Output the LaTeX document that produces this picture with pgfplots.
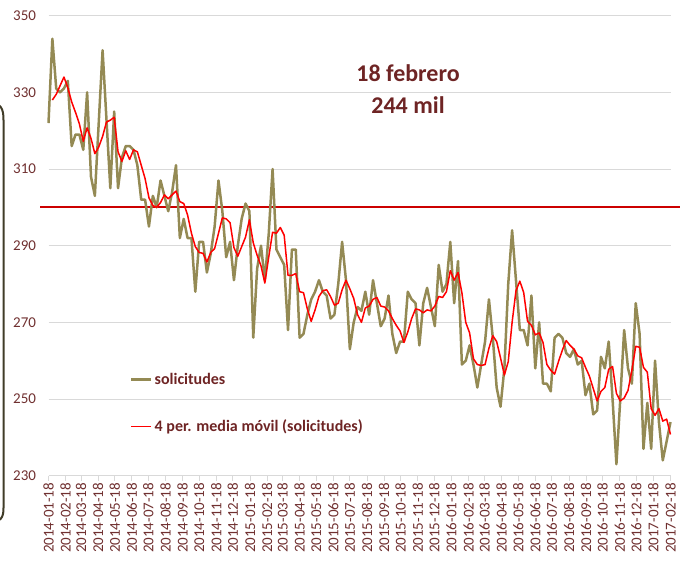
\documentclass[border=0pt]{standalone}
\usepackage{fontspec}
\setmainfont{Carlito}
\usepackage{pgfplots}
\usepackage{pgfplotstable}
\pgfplotsset{compat=1.18}
\definecolor{gold}{RGB}{148,138,84}
\definecolor{txt}{RGB}{112,48,48}
\definecolor{ttl}{RGB}{110,36,36}
\definecolor{grd}{RGB}{217,217,217}
\definecolor{refred}{RGB}{204,0,0}
\definecolor{frame}{RGB}{64,60,40}
\pgfplotstableread{
w g m
0 322 nan
1 344 328
2 331 329.5
3 330 331.75
4 331 334
5 333 331.25
6 316 327.5
7 319 324.75
8 319 321.75
9 315 317.25
10 330 320.75
11 308 318
12 303 314
13 322 315.75
14 341 318.5
15 323 322.25
16 305 322.75
17 325 323.5
18 305 314.5
19 313 312
20 316 314.75
21 316 312.5
22 315 315
23 311 314.5
24 302 311
25 302 307.5
26 295 302.5
27 303 300.5
28 300 300
29 307 301.25
30 303 303.25
31 299 302.25
32 304 303.25
33 311 304.25
34 292 301.5
35 297 301
36 292 298
37 292 293.25
38 278 289.75
39 291 288.25
40 291 288
41 283 285.75
42 288 288.25
43 295 289.25
44 307 293.25
45 299 297.25
46 287 297
47 291 296
48 281 289.5
49 290 287.25
50 297 289.75
51 301 292.25
52 299 296.75
53 266 290.75
54 284 287.5
55 290 284.75
56 281 280.25
57 293 287
58 310 293.5
59 289 293.25
60 287 294.75
61 285 292.75
62 268 282.25
63 289 282.25
64 289 282.75
65 266 278
66 267 277.75
67 272 273.5
68 276 270.25
69 278 273.25
70 281 276.75
71 278 278.25
72 277 278.5
73 271 276.75
74 272 274.5
75 280 275
76 291 278.5
77 281 281
78 263 278.75
79 270 276.25
80 274 272
81 273 270
82 278 273.75
83 272 274.25
84 281 276
85 275 276.5
86 269 274.25
87 271 274
88 277 273
89 267 271
90 262 269.25
91 265 267.75
92 265 264.75
93 278 267.5
94 276 271
95 275 273.5
96 264 273.25
97 275 272.5
98 279 273.25
99 274 273
100 269 274.25
101 285 276.75
102 278 276.5
103 280 278
104 291 283.5
105 275 281
106 286 283
107 259 277.75
108 260 270
109 264 267.25
110 259 260.5
111 253 259
112 259 258.75
113 265 259
114 276 263.25
115 266 266.5
116 253 265
117 248 260.75
118 258 256.25
119 280 259.75
120 294 270
121 281 278.25
122 268 280.75
123 268 277.75
124 264 270.25
125 277 269.25
126 258 266.75
127 270 267.25
128 254 264.75
129 254 259
130 252 257.5
131 266 256.5
132 267 259.75
133 266 262.75
134 262 265.25
135 261 264
136 263 263
137 259 261.25
138 260 260.75
139 251 258.25
140 254 256
141 246 252.75
142 247 249.5
143 261 252
144 258 253
145 265 257.75
146 250 258.5
147 233 251.5
148 250 249.5
149 268 250.25
150 258 252.25
151 254 257.5
152 275 263.75
153 267 263.5
154 237 258.25
155 249 257
156 237 247.5
157 260 245.75
158 244 247.5
159 234 244.25
160 239 244.75
161 244 240.75
}\data
\pgfplotstableread{
x y
-15 300
1145 300
}\refline
\begin{document}
\begin{tikzpicture}[x=1pt,y=1pt]
\useasboundingbox (0,0) rectangle (684,560);
\draw[line width=2pt, color=frame] (-12,458) .. controls (1,457) and (3.5,452) .. (3.5,440) -- (3.5,52) .. controls (3.5,42) and (1,38) .. (-12,37);
\begin{axis}[
  at={(48.5pt,84.3pt)}, anchor=south west,
  scale only axis, width=622pt, height=460pt,
  xmin=0, xmax=1127, ymin=230, ymax=350,
  clip=false,
  axis x line*=bottom, axis y line*=left,
  y axis line style={draw=none},
  x axis line style={draw=grd, line width=0.8pt, -},
  ytick={230,250,...,350},
  ytick style={draw=none},
  ymajorgrids, grid style={draw=grd, line width=0.8pt},
  xtick={0,31,59,90,120,151,181,212,243,273,304,334,365,396,424,455,485,516,546,577,608,638,669,699,730,761,790,821,851,882,912,943,974,1004,1035,1065,1096,1127},
  xticklabels={2014-01-18,2014-02-18,2014-03-18,2014-04-18,2014-05-18,2014-06-18,2014-07-18,2014-08-18,2014-09-18,2014-10-18,2014-11-18,2014-12-18,2015-01-18,2015-02-18,2015-03-18,2015-04-18,2015-05-18,2015-06-18,2015-07-18,2015-08-18,2015-09-18,2015-10-18,2015-11-18,2015-12-18,2016-01-18,2016-02-18,2016-03-18,2016-04-18,2016-05-18,2016-06-18,2016-07-18,2016-08-18,2016-09-18,2016-10-18,2016-11-18,2016-12-18,2017-01-18,2017-02-18},
  xtick style={draw=grd, line width=0.8pt},
  tick align=outside, major tick length=5pt,
  xticklabel style={rotate=90, anchor=east, font=\fontsize{15}{15}\selectfont, text=txt, inner sep=2pt},
  yticklabel style={font=\fontsize{15}{15}\selectfont, text=txt, xshift=-4pt},
  /pgf/number format/assume math mode=true,
  legend style={at={(0.131,0.228)}, anchor=north west, draw=none, fill=none,
    font=\bfseries\fontsize{16}{19}\selectfont, text=ttl, row sep=30pt, inner sep=0pt,
    /tikz/every even column/.append style={column sep=2pt}},
  legend cell align=left,
  legend image code/.code={\draw[#1] (0pt,0pt) -- (20pt,0pt);},
  unbounded coords=jump,
]
\addplot[color=refred, line width=1.8pt, forget plot] table[x=x, y=y] {\refline};
\addplot[gold, line width=2.5pt, line join=round] table[x expr=\thisrow{w}*7, y=g] {\data};
\addlegendentry{solicitudes}
\addplot[red, line width=1.5pt, line join=round] table[x expr=\thisrow{w}*7, y=m] {\data};
\addlegendentry{4 per. media móvil (solicitudes)}
\node[font=\bfseries\fontsize{24}{32}\selectfont, text=ttl, align=center] at (axis description cs:0.578,0.84) {18 febrero\\244 mil};
\end{axis}
\end{tikzpicture}
\end{document}
